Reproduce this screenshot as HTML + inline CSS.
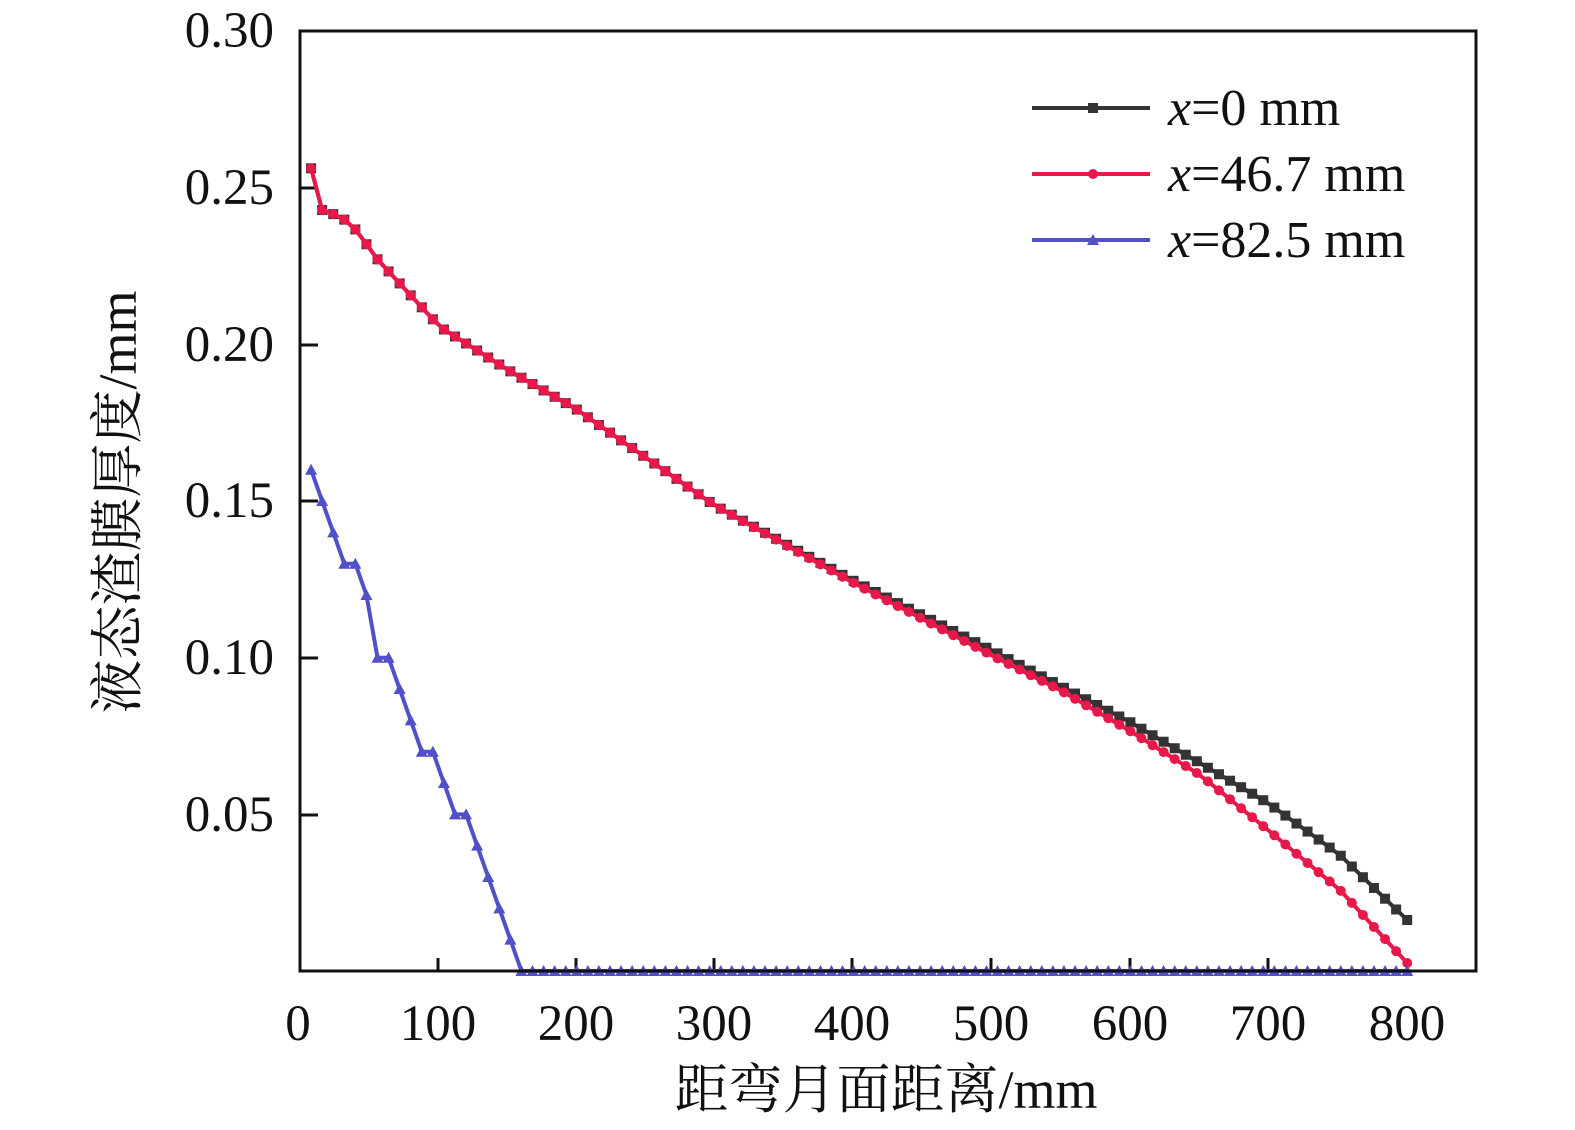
<!DOCTYPE html><html><head><meta charset="utf-8"><style>body{margin:0;background:#fff}svg{display:block}text{font-family:"Liberation Serif","Noto Serif CJK SC",serif;fill:#111}</style></head><body>
<svg id="s" width="1575" height="1130" xmlns="http://www.w3.org/2000/svg">
<rect width="1575" height="1130" fill="#fff"/>
<g id="plot"></g>
<rect x="300" y="31" width="1176" height="940" fill="none" stroke="#111" stroke-width="3"/>
<g font-size="51" text-anchor="end">
<text x="274" y="47">0.30</text><text x="274" y="204">0.25</text><text x="274" y="361">0.20</text><text x="274" y="517">0.15</text><text x="274" y="674">0.10</text><text x="274" y="831">0.05</text>
</g>
<g font-size="51" text-anchor="middle">
<text x="298" y="1040">0</text><text x="438" y="1040">100</text><text x="576" y="1040">200</text><text x="714" y="1040">300</text><text x="852" y="1040">400</text><text x="991" y="1040">500</text><text x="1130" y="1040">600</text><text x="1268" y="1040">700</text><text x="1407" y="1040">800</text>
</g>
<text x="886" y="1108" font-size="54" text-anchor="middle">距弯月面距离/mm</text>
<text transform="translate(136,502) rotate(-90)" font-size="54" text-anchor="middle">液态渣膜厚度/mm</text>
<g font-size="52">
<line x1="1032" y1="108" x2="1150" y2="108" stroke="#333" stroke-width="4"/><rect x="1088" y="103" width="10" height="10" fill="#333"/>
<text x="1168" y="125"><tspan font-style="italic">x</tspan>=0 mm</text>
<line x1="1032" y1="174" x2="1150" y2="174" stroke="#e8194a" stroke-width="4"/><circle cx="1093" cy="174" r="5" fill="#e8194a"/>
<text x="1168" y="191"><tspan font-style="italic">x</tspan>=46.7 mm</text>
<line x1="1032" y1="240" x2="1150" y2="240" stroke="#5050c8" stroke-width="4"/><path d="M1087 245 L1093 234 L1099 245Z" fill="#5050c8"/>
<text x="1168" y="257"><tspan font-style="italic">x</tspan>=82.5 mm</text>
</g>
</svg>
<script>
const g=document.getElementById('plot');
function px(m){return 300+m*1.384;}
function interp(k,x){for(let i=0;i<k.length-1;i++){if(x<=k[i+1][0]){const t=(x-k[i][0])/(k[i+1][0]-k[i][0]);return k[i][1]+t*(k[i+1][1]-k[i][1]);}}return k[k.length-1][1];}
const kb=[[311,168],[322,210],[333,214],[345,220],[356,230],[378,260],[440,327],[508,370],[576,409],[714,505],[852,580],[991,650],[1130,722],[1268,803],[1340,855],[1407,920]];
const kr=[[311,168],[322,210],[333,214],[345,220],[356,230],[378,260],[440,327],[508,370],[576,409],[714,505],[852,582],[991,655],[1060,690],[1130,731],[1200,775],[1268,830],[1340,890],[1407,963]];
let h='';
for(const x of [438,576,714,852,991,1130,1268]){h+=`<line x1="${x}" y1="971" x2="${x}" y2="958" stroke="#111" stroke-width="3"/>`;}
for(const y of [188,345,501,658,815]){h+=`<line x1="300" y1="${y}" x2="318" y2="${y}" stroke="#111" stroke-width="3"/>`;}
function series(k,color,mk){let pts=[];for(let m=8;m<=800;m+=8){const x=px(m);pts.push([x,interp(k,x)]);}
 h+=`<polyline points="${pts.map(p=>p.join(',')).join(' ')}" fill="none" stroke="${color}" stroke-width="4"/>`;
 for(const [x,y] of pts){h+=mk(x,y);} }
series(kb,'#333',(x,y)=>`<rect x="${x-5}" y="${y-5}" width="10" height="10" fill="#333"/>`);
series(kr,'#e8194a',(x,y)=>`<circle cx="${x}" cy="${y}" r="5" fill="#e8194a"/>`);
const bv=[0.16,0.15,0.14,0.13,0.13,0.12,0.10,0.10,0.09,0.08,0.07,0.07,0.06,0.05,0.05,0.04,0.03,0.02,0.01,0];
let bp=[];for(let i=1;i<=100;i++){const m=i*8;const v=i<=20?bv[i-1]:0;bp.push([px(m),971-v*3133]);}
h+=`<polyline points="${bp.map(p=>p.join(',')).join(' ')}" fill="none" stroke="#5050c8" stroke-width="4"/>`;
for(const [x,y] of bp){h+=`<path d="M${x-6} ${y+5} L${x} ${y-6} L${x+6} ${y+5}Z" fill="#5050c8"/>`;}
g.innerHTML=h;
</script>
</body></html>
